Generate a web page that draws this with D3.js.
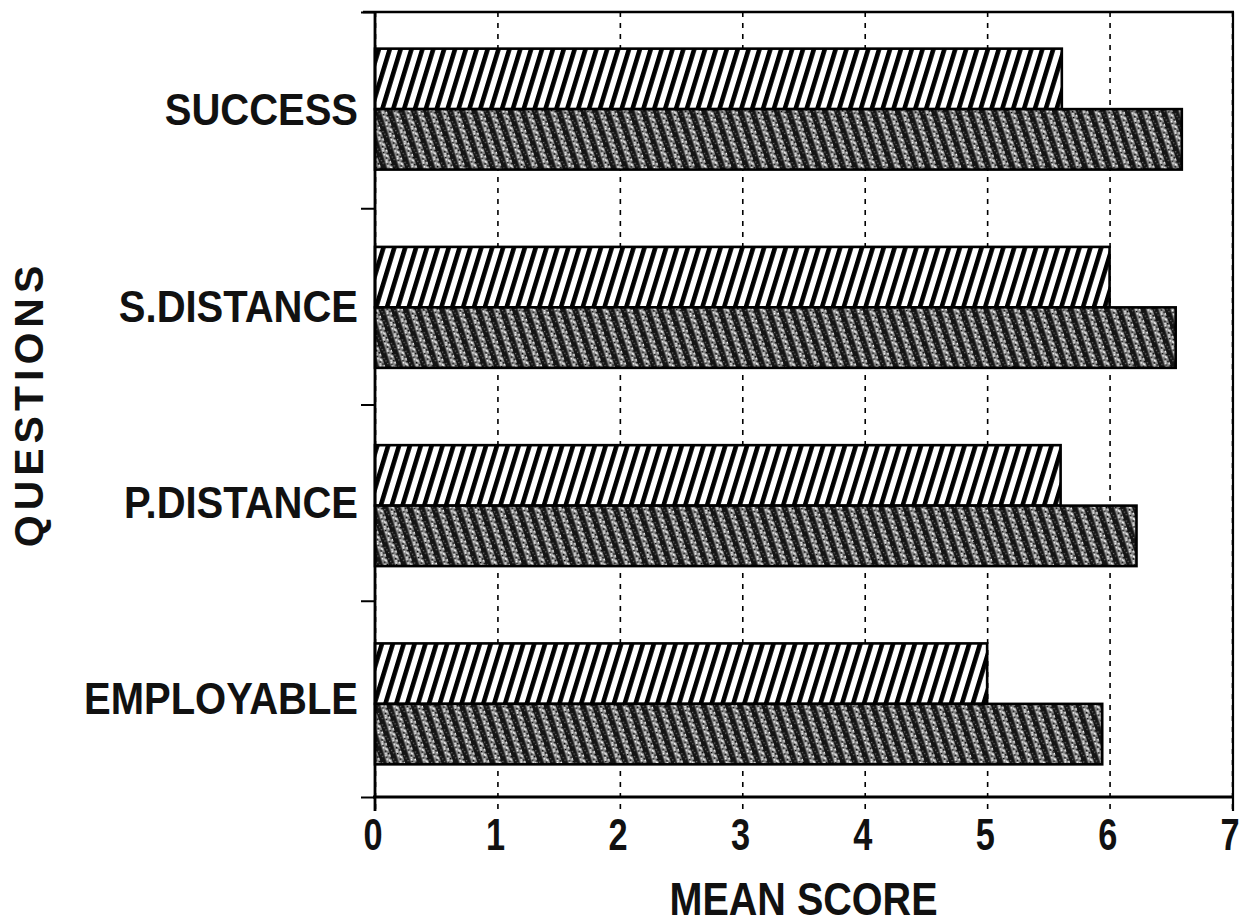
<!DOCTYPE html>
<html>
<head>
<meta charset="utf-8">
<script src="https://cdn.jsdelivr.net/npm/d3@7"></script>
<style>
  html, body { margin: 0; padding: 0; background: #fff; }
  svg { display: block; }
  text { font-family: "Liberation Sans", Arial, Helvetica, sans-serif; fill: #111; }
</style>
</head>
<body>
<svg id="chart" width="1248" height="924"></svg>
<script>
// ---- data ----
const categories = ["SUCCESS", "S.DISTANCE", "P.DISTANCE", "EMPLOYABLE"];
const seriesNames = ["A", "B"];
const seriesA = [5.61, 6.0, 5.6, 5.0];   // hatched (upper bar)
const seriesB = [6.59, 6.54, 6.22, 5.94]; // dark stippled (lower bar)
const xTicks = [0, 1, 2, 3, 4, 5, 6, 7];
const xTitle = "MEAN SCORE";
const yTitle = "QUESTIONS";

(function () {
const svg = d3.select("#chart");
const pL = 375, pR = 1232, pT = 12, pB = 797;

const x = d3.scaleLinear().domain([0, 7]).range([pL, pR]);
const y = d3.scaleBand().domain(categories).range([pT, pB]);
const yBar = d3.scaleBand().domain(categories).range([pT - 2, pB + 6]).paddingInner(0.39).paddingOuter(0.195);
const yInner = d3.scaleBand().domain(seriesNames).range([0, yBar.bandwidth()]);
const yLin = d3.scaleLinear().domain([0, categories.length]).range([pB, pT]);

// ---- patterns ----
const defs = svg.append("defs");
const hatch = defs.append("pattern").attr("id", "hatch")
  .attr("patternUnits", "userSpaceOnUse").attr("width", 10.4).attr("height", 20)
  .attr("patternTransform", "rotate(17)");
hatch.append("rect").attr("width", 10.4).attr("height", 20).attr("fill", "#fff");
hatch.append("rect").attr("x", 0).attr("width", 4.6).attr("height", 20).attr("fill", "#000");

const dark = defs.append("pattern").attr("id", "dark")
  .attr("patternUnits", "userSpaceOnUse").attr("width", 11.5).attr("height", 12)
  .attr("patternTransform", "rotate(-18)");
dark.append("rect").attr("width", 11.5).attr("height", 12).attr("fill", "#858585");
dark.append("rect").attr("x", 0).attr("width", 5.5).attr("height", 12).attr("fill", "#141414");
[[6.5,1],[9,4],[7,7],[10,10],[8.5,2.5],[6.5,9]].forEach(([a,b]) =>
  dark.append("rect").attr("x", a).attr("y", b).attr("width", 1.5).attr("height", 1.5).attr("fill", "#fff"));
[[7.5,5],[9.5,8],[10,1],[6.5,11]].forEach(([a,b]) =>
  dark.append("rect").attr("x", a).attr("y", b).attr("width", 1.5).attr("height", 1.5).attr("fill", "#000"));
[[1,3],[3,9],[2,6]].forEach(([a,b]) =>
  dark.append("rect").attr("x", a).attr("y", b).attr("width", 1.2).attr("height", 1.2).attr("fill", "#777"));

// ---- gridlines (dashed, extend below axis) ----
const grid = svg.append("g").attr("transform", `translate(0,${pT})`)
  .call(d3.axisBottom(x).tickValues(xTicks).tickSize(pB - pT + 16).tickFormat(""));
grid.select(".domain").remove();
grid.selectAll(".tick line").attr("stroke", "#000").attr("stroke-width", 1.6).attr("stroke-dasharray", "5,6");

// ---- bars ----
const rows = categories.map((c, i) => ({ c, vals: [seriesA[i], seriesB[i]] }));
const g = svg.append("g");
rows.forEach(r => {
  r.vals.forEach((v, j) => {
    g.append("rect")
      .attr("x", x(0))
      .attr("y", yBar(r.c) + yInner(seriesNames[j]))
      .attr("width", x(v) - x(0))
      .attr("height", yInner.bandwidth())
      .attr("fill", j === 0 ? "url(#hatch)" : "url(#dark)")
      .attr("stroke", "#000").attr("stroke-width", 2.6);
  });
});

// ---- frame ----
svg.append("line").attr("x1", pL - 12).attr("x2", pR + 2).attr("y1", pT).attr("y2", pT)
  .attr("stroke", "#000").attr("stroke-width", 2.5);
svg.append("line").attr("x1", pR + 1).attr("x2", pR + 1).attr("y1", pT).attr("y2", pB + 14)
  .attr("stroke", "#000").attr("stroke-width", 2.2);

// ---- x axis ----
const xa = svg.append("g").attr("transform", `translate(0,${pB})`)
  .call(d3.axisBottom(x).tickValues(xTicks).tickSize(0).tickPadding(22).tickFormat(d3.format("d")));
xa.select(".domain").attr("stroke", "#000").attr("stroke-width", 3).attr("d", `M${pL - 2},0H${pR + 2}`);
xa.selectAll(".tick text")
  .attr("font-size", 44).attr("font-weight", "bold")
  .attr("font-family", "'Liberation Sans', Arial, sans-serif")
  .attr("dy", "0.71em")
  .attr("transform", "scale(0.78,1)")
  .attr("x", -3);

// ---- y axis ticks ----
const ya = svg.append("g").attr("transform", `translate(${pL},0)`)
  .call(d3.axisLeft(yLin).ticks(categories.length).tickSize(14).tickFormat(""));
ya.select(".domain").attr("stroke", "#000").attr("stroke-width", 2.8).attr("d", `M0,${pT}V${pB + 14}`);
ya.selectAll(".tick line").attr("stroke", "#000").attr("stroke-width", 2);

// ---- category labels ----
const yl = svg.append("g").attr("transform", `translate(${pL},0)`)
  .call(d3.axisLeft(y).tickSize(0).tickPadding(17));
yl.select(".domain").remove();
yl.selectAll(".tick text")
  .attr("font-size", 40).attr("font-weight", "bold")
  .attr("font-family", "'Liberation Sans', Arial, sans-serif")
  .attr("dy", "0.34em")
  .attr("transform", "scale(1,1.13)")
  .attr("fill", "#111");

// ---- titles ----
svg.append("g").attr("transform", `translate(${(x(0) + x(7)) / 2},915)`)
  .append("text").attr("transform", "scale(0.86,1)")
  .attr("text-anchor", "middle").attr("font-size", 46).attr("font-weight", "bold")
  .text(xTitle);

svg.append("text")
  .attr("transform", `translate(43,404) rotate(-90)`)
  .attr("text-anchor", "middle").attr("font-size", 41).attr("font-weight", "bold")
  .attr("letter-spacing", 5)
  .text(yTitle);
})();
</script>
</body>
</html>
